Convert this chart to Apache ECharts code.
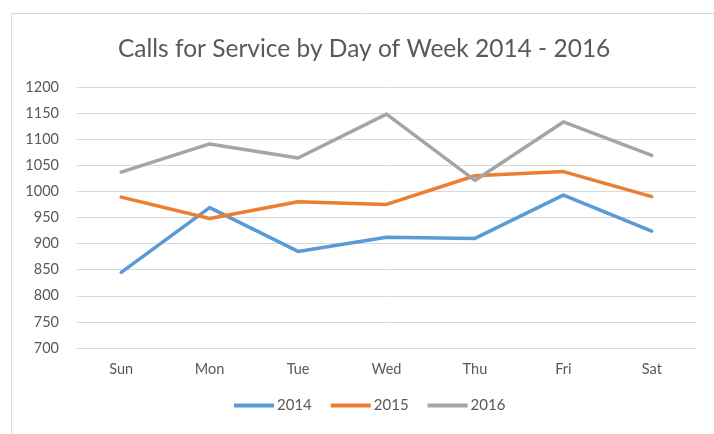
<!DOCTYPE html>
<html>
<head>
<meta charset="utf-8">
<script src="https://cdn.jsdelivr.net/npm/echarts@6/dist/echarts.min.js"></script>
<style>
  html, body { margin: 0; padding: 0; background: #fff; }
  #chart { width: 714px; height: 434px; }
</style>
</head>
<body>
<div id="chart"></div>
<script>
// Weekly call volume per year
const days = ['Sun', 'Mon', 'Tue', 'Wed', 'Thu', 'Fri', 'Sat'];
const calls2014 = [845, 969, 885, 912, 910, 993, 924];
const calls2015 = [989, 948, 980, 975, 1030, 1038, 990];
const calls2016 = [1037, 1091, 1064, 1148, 1021, 1133, 1069];
const yTicks = [700, 750, 800, 850, 900, 950, 1000, 1050, 1100, 1150, 1200];

const FONT = 'Lato, "Open Sans", sans-serif';
const TEXT = '#595959';

const chart = echarts.init(document.getElementById('chart'), null, { renderer: 'canvas' });

function line(name, data, color) {
  return {
    name, type: 'line', data,
    symbol: 'none',
    lineStyle: { width: 3.5, color, cap: 'round', join: 'round' },
    itemStyle: { color },
    emphasis: { disabled: true }
  };
}

chart.setOption({
  animation: false,
  backgroundColor: '#fff',
  graphic: [{
    type: 'rect',
    shape: { x: 11.5, y: 13.5, width: 720, height: 440 },
    style: { fill: 'none', stroke: '#d9d9d9', lineWidth: 1 },
    z: -1
  }],
  title: {
    text: 'Calls for Service by Day of Week 2014 - 2016',
    left: 113,
    top: 32,
    textStyle: { fontFamily: FONT, fontSize: 24.5, fontWeight: 'normal', color: TEXT }
  },
  legend: {
    bottom: 16,
    left: 229,
    itemWidth: 40,
    itemHeight: 4,
    itemGap: 19,
    icon: 'rect',
    textStyle: { fontFamily: FONT, fontSize: 15, color: TEXT, padding: [0, 0, 0, -2] },
    data: ['2014', '2015', '2016']
  },
  grid: { left: 77, right: 18, top: 87, bottom: 86 },
  xAxis: {
    type: 'category',
    data: days,
    boundaryGap: true,
    axisLine: { show: true, lineStyle: { color: '#d9d9d9' } },
    axisTick: { show: false },
    axisLabel: { fontFamily: FONT, fontSize: 14.5, color: TEXT, margin: 14 }
  },
  yAxis: {
    type: 'value',
    min: yTicks[0],
    max: yTicks[yTicks.length - 1],
    interval: yTicks[1] - yTicks[0],
    axisLine: { show: false },
    axisTick: { show: false },
    splitLine: { lineStyle: { color: '#d9d9d9', width: 1 } },
    axisLabel: {
      fontFamily: FONT, fontSize: 14.5, color: TEXT, margin: 18,
      formatter: v => String(v)
    }
  },
  series: [
    line('2014', calls2014, '#5b9bd5'),
    line('2015', calls2015, '#ed7d31'),
    line('2016', calls2016, '#a5a5a5')
  ]
});
</script>
</body>
</html>
